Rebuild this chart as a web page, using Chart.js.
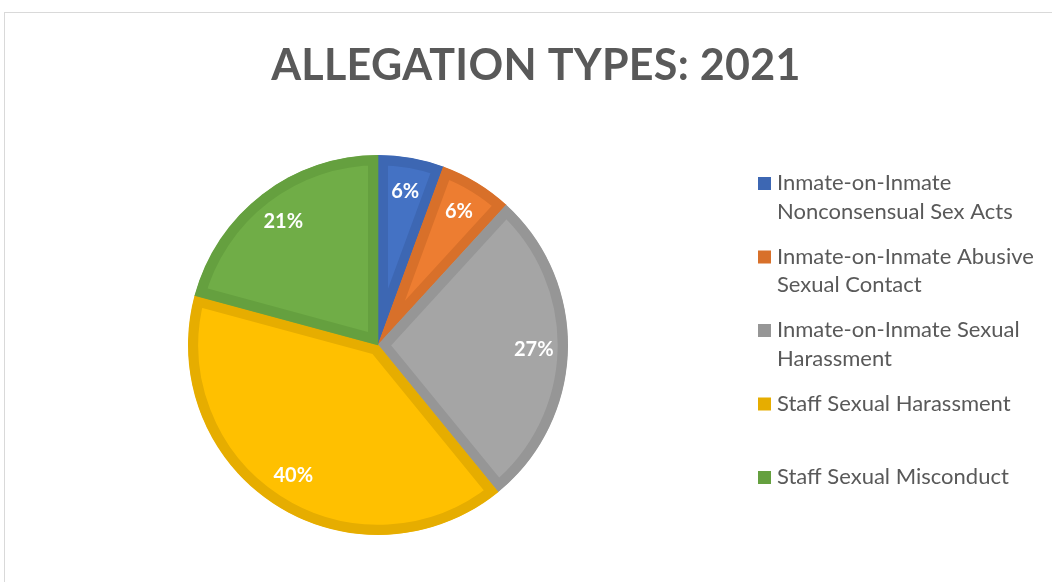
<!DOCTYPE html>
<html>
<head>
<meta charset="utf-8">
<script src="https://cdn.jsdelivr.net/npm/chart.js@4.4.0/dist/chart.umd.min.js"></script>
<style>
  html, body { margin: 0; padding: 0; background: #fff; }
  #wrap { width: 1052px; height: 582px; }
</style>
</head>
<body>
<div id="wrap"><canvas id="myChart" width="1052" height="582"></canvas></div>
<script>
const chartTitle = 'ALLEGATION TYPES: 2021';
// category names, split into the lines used in the legend
const categories = [
    ['Inmate-on-Inmate', 'Nonconsensual Sex Acts'],
    ['Inmate-on-Inmate Abusive', 'Sexual Contact'],
    ['Inmate-on-Inmate Sexual', 'Harassment'],
    ['Staff Sexual Harassment'],
    ['Staff Sexual Misconduct']
];
const shares = [5.6, 6.2, 27.3, 40.1, 20.8];
const fillColors = ['#4472C4', '#ED7D31', '#A5A5A5', '#FFC000', '#70AD47'];
const edgeColors = ['#3D67B3', '#D8702A', '#969696', '#E6AD00', '#65A03F'];

const ctx = document.getElementById('myChart');

// frame, title and white background
const framePlugin = {
    id: 'frame',
    beforeDraw(chart) {
        const c = chart.ctx;
        c.save();
        c.fillStyle = '#fff';
        c.fillRect(0, 0, chart.width, chart.height);
        c.strokeStyle = '#d9d9d9';
        c.lineWidth = 1;
        c.strokeRect(4.5, 12.5, chart.width + 10, chart.height + 10);
        c.fillStyle = '#595959';
        c.font = 'bold 43px Lato';
        c.textAlign = 'center';
        c.textBaseline = 'alphabetic';
        c.letterSpacing = '0.3px';
        c.fillText(chartTitle, 536, 80);
        c.restore();
    }
};

// percentage labels inside the slices
const labelPlugin = {
    id: 'sliceLabels',
    afterDatasetsDraw(chart) {
        const c = chart.ctx;
        const meta = chart.getDatasetMeta(0);
        const data = chart.data.datasets[0].data;
        const total = data.reduce((a, b) => a + b, 0);
        c.save();
        c.fillStyle = '#fff';
        c.font = 'bold 20px Lato';
        c.textAlign = 'center';
        c.textBaseline = 'middle';
        meta.data.forEach((arc, i) => {
            const p = arc.getProps(['x', 'y', 'startAngle', 'endAngle', 'outerRadius'], true);
            const mid = (p.startAngle + p.endAngle) / 2;
            const r = p.outerRadius * 0.82;
            c.fillText(Math.round(data[i] / total * 100) + '%', p.x + Math.cos(mid) * r, p.y + Math.sin(mid) * r);
        });
        c.restore();
    }
};

// legend on the right, multi-line entries
const legendPlugin = {
    id: 'sideLegend',
    afterDraw(chart) {
        const c = chart.ctx;
        const labels = chart.data.labels;
        const colors = chart.data.datasets[0].borderColor;
        c.save();
        c.font = '22px Lato';
        c.textBaseline = 'middle';
        labels.forEach((lines, i) => {
            const y = 183 + i * 73.5;
            c.fillStyle = colors[i];
            c.fillRect(758, y - 6, 13, 13);
            c.fillStyle = '#595959';
            lines.forEach((t, j) => c.fillText(t, 777, y + j * 28.5));
        });
        c.restore();
    }
};

new Chart(ctx, {
    type: 'pie',
    data: {
        labels: categories,
        datasets: [{
            data: shares,
            backgroundColor: fillColors,
            borderColor: edgeColors,
            borderWidth: 10,
            borderAlign: 'inner',
            borderJoinStyle: 'miter',
            hoverOffset: 0
        }]
    },
    options: {
        responsive: false,
        animation: false,
        layout: {
            padding: { left: 188, right: 484, top: 155, bottom: 47 }
        },
        plugins: {
            legend: { display: false },
            title: { display: false },
            tooltip: { enabled: false }
        }
    },
    plugins: [framePlugin, labelPlugin, legendPlugin]
});
</script>
</body>
</html>
